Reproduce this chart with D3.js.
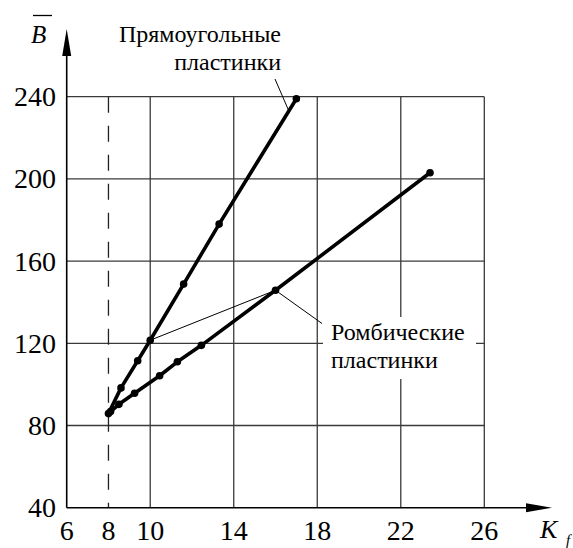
<!DOCTYPE html>
<html>
<head>
<meta charset="utf-8">
<script src="https://cdn.jsdelivr.net/npm/d3@7"></script>
</head>
<body style="margin:0">
<svg id="chart" width="573" height="548"></svg>
<script>
// Прямоугольные пластинки
var rectK = [8, 8.6, 9.4, 10, 11.6, 13.3, 17];
var rectB = [85.8, 98.3, 111.5, 121.5, 148.8, 178, 239];

// Ромбические пластинки
var rhombK = [8.1, 8.5, 9.25, 10.45, 11.3, 12.45, 16, 23.4];
var rhombB = [86.8, 90.3, 95.7, 104.2, 111, 119, 145.8, 203];

var xTicks = [6, 8, 10, 14, 18, 22, 26];
var yTicks = [40, 80, 120, 160, 200, 240];
var xGrid = [10, 14, 18, 22, 26];
var yGrid = [80, 120, 160, 200, 240];

var svg = d3.select('#chart')
			.attr('font-family', 'Times New Roman');

var x = d3.scaleLinear()
			.domain([6, 26])
			.range([66.7, 484.3]);
var y = d3.scaleLinear()
			.domain([40, 240])
			.range([507.7, 96.7]);

var rect = rectK.map((k, i) => [k, rectB[i]]);
var rhomb = rhombK.map((k, i) => [k, rhombB[i]]);

var line = d3.line()
				.x(d => x(d[0]))
				.y(d => y(d[1]));

// grid
svg.selectAll('.vgrid')
	.data(xGrid)
	.enter()
	.append('line')
		.attr('x1', d => x(d)).attr('x2', d => x(d))
		.attr('y1', y(40)).attr('y2', y(240))
		.attr('stroke', '#3a3a3a')
		.attr('stroke-width', 1.3);

svg.selectAll('.hgrid')
	.data(yGrid)
	.enter()
	.append('line')
		.attr('x1', x(6)).attr('x2', x(26))
		.attr('y1', d => y(d)).attr('y2', d => y(d))
		.attr('stroke', '#3a3a3a')
		.attr('stroke-width', 1.3);

// dashed line at K = 8
svg.append('line')
	.attr('x1', x(8)).attr('x2', x(8))
	.attr('y1', y(240)).attr('y2', y(40))
	.attr('stroke', '#222')
	.attr('stroke-width', 1.3)
	.attr('stroke-dasharray', '16,13');

// axes with arrows
svg.append('line')
	.attr('x1', x(6)).attr('x2', x(6))
	.attr('y1', y(40)).attr('y2', 50)
	.attr('stroke', '#000')
	.attr('stroke-width', 1.6);
svg.append('path')
	.attr('d', d3.line()([[x(6), 29], [x(6) - 4.5, 56], [x(6) + 4.5, 56]]) + 'Z')
	.attr('fill', '#000');

svg.append('line')
	.attr('x1', x(6)).attr('x2', 530)
	.attr('y1', y(40)).attr('y2', y(40))
	.attr('stroke', '#000')
	.attr('stroke-width', 1.6);
svg.append('path')
	.attr('d', d3.line()([[552, y(40)], [526, y(40) - 4.5], [526, y(40) + 4.5]]) + 'Z')
	.attr('fill', '#000');

// pointer lines
svg.append('line')
	.attr('x1', 275).attr('y1', 79)
	.attr('x2', x(16.62)).attr('y2', y(233.5))
	.attr('stroke', '#000')
	.attr('stroke-width', 1);

svg.append('line')
	.attr('x1', x(10)).attr('y1', y(121.5))
	.attr('x2', x(16)).attr('y2', y(145.8))
	.attr('stroke', '#000')
	.attr('stroke-width', 1);
svg.append('line')
	.attr('x1', x(16)).attr('y1', y(145.8))
	.attr('x2', 322).attr('y2', 323.5)
	.attr('stroke', '#000')
	.attr('stroke-width', 1);

// data lines
[rect, rhomb].forEach(series => {
	svg.append('path')
		.datum(series)
		.attr('d', line)
		.attr('fill', 'none')
		.attr('stroke', '#000')
		.attr('stroke-width', 3.6)
		.attr('stroke-linejoin', 'round');

	svg.selectAll(null)
		.data(series)
		.enter()
		.append('circle')
			.attr('cx', d => x(d[0]))
			.attr('cy', d => y(d[1]))
			.attr('r', 3.8)
			.attr('fill', '#000');
});

svg.append('rect')
	.attr('x', 323)
	.attr('y', 317)
	.attr('width', 153)
	.attr('height', 62)
	.attr('fill', '#fff');

// all texts, same way as the font test that rendered serif
var texts = [];
xTicks.forEach(d => texts.push({t: String(d), x: x(d), y: 540, s: 28, a: 'middle'}));
yTicks.forEach(d => texts.push({t: String(d), x: 56, y: y(d) + 9.5, s: 28, a: 'end'}));
texts.push({t: 'B', x: 31, y: 43, s: 25, a: 'start', i: true});
texts.push({t: 'K', x: 540, y: 538, s: 26, a: 'start', i: true});
texts.push({t: 'f', x: 566, y: 545, s: 15, a: 'start', i: true});
texts.push({t: 'Прямоугольные', x: 281, y: 42, s: 24, a: 'end'});
texts.push({t: 'пластинки', x: 281, y: 70, s: 24, a: 'end'});
texts.push({t: 'Ромбические', x: 331, y: 340, s: 24, a: 'start'});
texts.push({t: 'пластинки', x: 331, y: 368, s: 24, a: 'start'});

svg.selectAll('text')
	.data(texts)
	.enter()
	.append('text')
		.attr('x', d => d.x)
		.attr('y', d => d.y)
		.attr('font-size', d => d.s)
		.attr('text-anchor', d => d.a)
		.attr('font-style', d => d.i ? 'italic' : 'normal')
		.style('font-family', d => '"Times New Roman"')
		.text(d => d.t);

svg.append('line')
	.attr('x1', 33).attr('x2', 52)
	.attr('y1', 15.5).attr('y2', 15.5)
	.attr('stroke', '#000')
	.attr('stroke-width', 1.3);
</script>
</body>
</html>
